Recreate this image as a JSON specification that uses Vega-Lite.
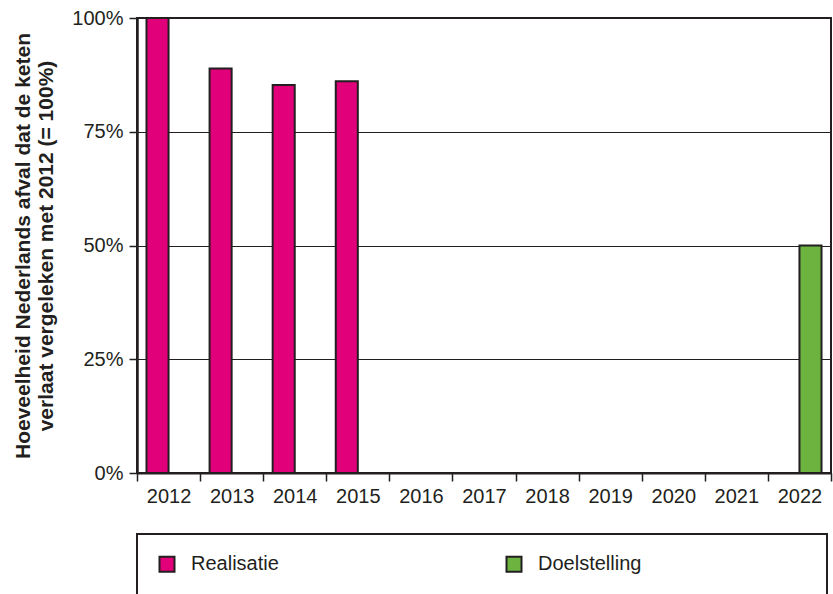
{
  "$schema": "https://vega.github.io/schema/vega-lite/v6.json",
  "width": 694,
  "height": 455,
  "autosize": {"type": "none"},
  "padding": {"left": 137, "top": 18, "right": 2, "bottom": 121},
  "background": "white",
  "config": {
    "view": {"stroke": "#231f20", "strokeWidth": 2},
    "font": "Liberation Sans",
    "legend": {"strokeWidth": 2}
  },
  "data": {
    "values": [
      {"year": "2012", "series": "Realisatie", "value": 100},
      {"year": "2013", "series": "Realisatie", "value": 88.9},
      {"year": "2014", "series": "Realisatie", "value": 85.3},
      {"year": "2015", "series": "Realisatie", "value": 86.1},
      {"year": "2022", "series": "Doelstelling", "value": 50}
    ]
  },
  "mark": {"type": "bar", "stroke": "#231f20", "strokeWidth": 2},
  "encoding": {
    "x": {
      "field": "year",
      "type": "nominal",
      "scale": {
        "domain": ["2012", "2013", "2014", "2015", "2016", "2017", "2018", "2019", "2020", "2021", "2022"],
        "paddingInner": 0,
        "paddingOuter": 0
      },
      "axis": {
        "title": null,
        "labelAngle": 0,
        "labelFontSize": 20,
        "labelColor": "#231f20",
        "labelPadding": 5,
        "tickBand": "extent",
        "tickSize": 8,
        "tickColor": "#231f20",
        "tickWidth": 1.5,
        "domainColor": "#231f20",
        "domainWidth": 2,
        "grid": false
      }
    },
    "xOffset": {
      "field": "series",
      "type": "nominal",
      "scale": {"domain": ["Realisatie", "Doelstelling"], "paddingInner": 0, "paddingOuter": 0.43}
    },
    "y": {
      "field": "value",
      "type": "quantitative",
      "scale": {"domain": [0, 100], "nice": false},
      "axis": {
        "values": [0, 25, 50, 75, 100],
        "labelExpr": "datum.value + '%'",
        "labelFontSize": 20,
        "labelColor": "#231f20",
        "labelPadding": 6,
        "tickSize": 8,
        "tickColor": "#231f20",
        "tickWidth": 1.5,
        "domainColor": "#231f20",
        "domainWidth": 2.5,
        "grid": true,
        "gridColor": "#231f20",
        "gridWidth": 1,
        "title": ["Hoeveelheid Nederlands afval dat de keten", "verlaat vergeleken met 2012 (= 100%)"],
        "titleFontSize": 21,
        "titleFontWeight": "bold",
        "titleColor": "#231f20",
        "titleLineHeight": 23,
        "titlePadding": 15
      }
    },
    "color": {
      "field": "series",
      "type": "nominal",
      "scale": {"domain": ["Realisatie", "Doelstelling"], "range": ["#E2007A", "#6CB33F"]},
      "legend": {
        "title": null,
        "orient": "none",
        "legendX": 0,
        "legendY": 516,
        "direction": "horizontal",
        "padding": 20,
        "strokeColor": "#231f20",
        "symbolType": "square",
        "symbolSize": 225,
        "symbolStrokeWidth": 2,
        "symbolStrokeColor": "#231f20",
        "symbolOpacity": 1,
        "labelFontSize": 20,
        "labelColor": "#231f20",
        "labelOffset": 14,
        "columnPadding": 223,
        "labelLimit": 500,
        "labelExpr": "(datum.value == 'Doelstelling' || datum.label == 'Doelstelling') ? 'Doelstelling' + '\u2800\u2800\u2800\u2800\u2800\u2800\u2800\u2800\u2800\u2800\u2800' : datum.label"
      }
    }
  }
}
